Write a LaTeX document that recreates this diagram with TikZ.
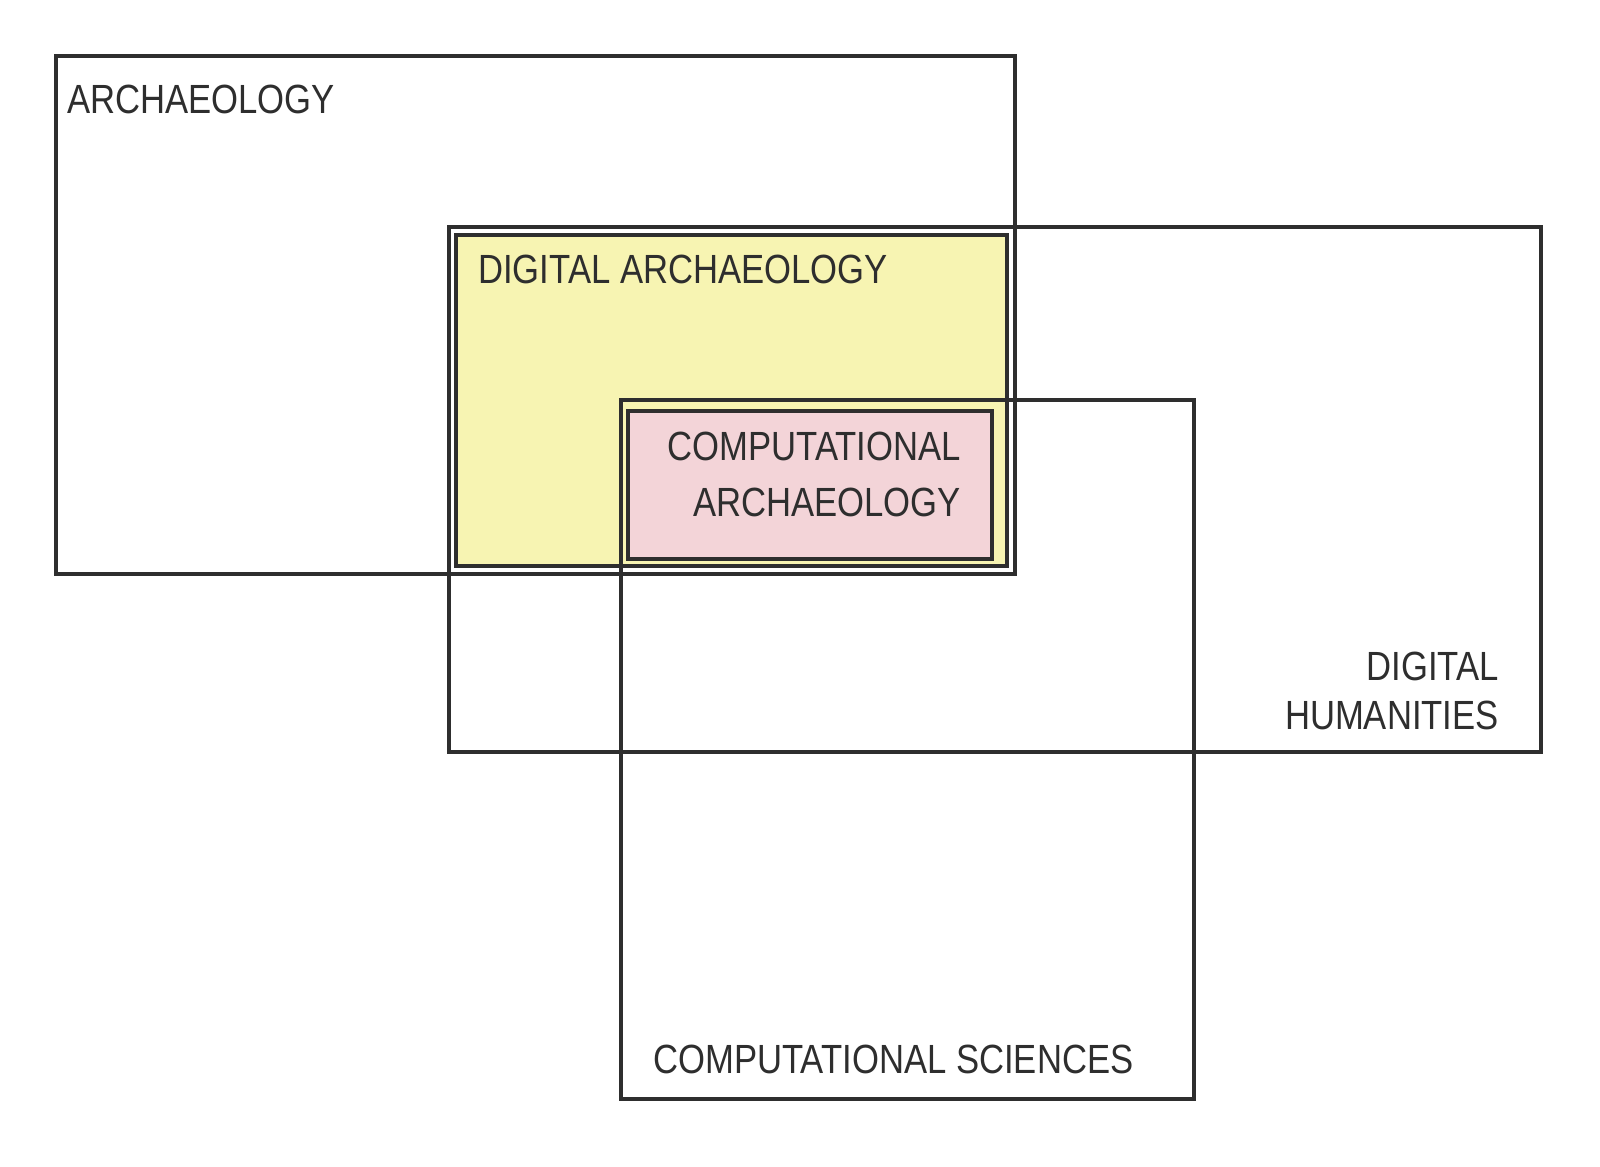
\documentclass[tikz,border=0pt]{standalone}
\usepackage{fontspec}
\newfontfamily\handfont[FakeStretch=0.85]{Liberation Sans}
\usetikzlibrary{positioning}
\definecolor{MarkerGray}{RGB}{46,46,46}
\definecolor{PencilYellow}{RGB}{247,244,178}
\definecolor{PencilPink}{RGB}{243,212,216}
\tikzset{
    fieldbox/.style={rectangle, draw=MarkerGray, line width=1.4pt, inner sep=0pt},
    fieldlabel/.style={font=\handfont\fontsize{11.6}{16}\selectfont, text=MarkerGray, inner sep=0pt}
}

\begin{document}
\begin{tikzpicture}
    \useasboundingbox (0,0) rectangle (16,-11.66);

    % --- COLOURED OVERLAPS (drawn first) ---
    % Digital archaeology: Archaeology x Digital humanities
    \node[fieldbox, fill=PencilYellow, minimum width=5.51cm, minimum height=3.31cm] (da) at (7.315,-4.005) {};
    % Computational archaeology: Digital archaeology x Computational sciences
    \node[fieldbox, fill=PencilPink, minimum width=3.64cm, minimum height=1.48cm] (ca) at (8.10,-4.85) {};

    % --- THE THREE FIELDS ---
    \node[fieldbox, minimum width=9.59cm, minimum height=5.18cm] (arch) at (5.355,-3.15) {};
    \node[fieldbox, minimum width=10.92cm, minimum height=5.25cm] (dh) at (9.95,-4.895) {};
    \node[fieldbox, minimum width=5.73cm, minimum height=6.99cm] (cs) at (9.075,-7.495) {};

    % --- LABELS ---
    \node[fieldlabel, anchor=west] (archlbl) at ([shift={(0.13,-0.46)}]arch.north west) {ARCHAEOLOGY};
    \node[fieldlabel, anchor=west] (dalbl) at ([shift={(0.24,-0.37)}]da.north west) {DIGITAL ARCHAEOLOGY};
    \node[fieldlabel, anchor=east, align=right] (calbl) at ([shift={(-0.33,0.105)}]ca.east) {COMPUTATIONAL\\ARCHAEOLOGY};
    \node[fieldlabel, anchor=east, align=right, font=\handfont\fontsize{11.6}{14}\selectfont] (dhlbl) at ([shift={(-0.44,0.635)}]dh.south east) {DIGITAL\\HUMANITIES};
    \node[fieldlabel, anchor=west] (cslbl) at ([shift={(0.34,0.42)}]cs.south west) {COMPUTATIONAL SCIENCES};
\end{tikzpicture}
\end{document}
